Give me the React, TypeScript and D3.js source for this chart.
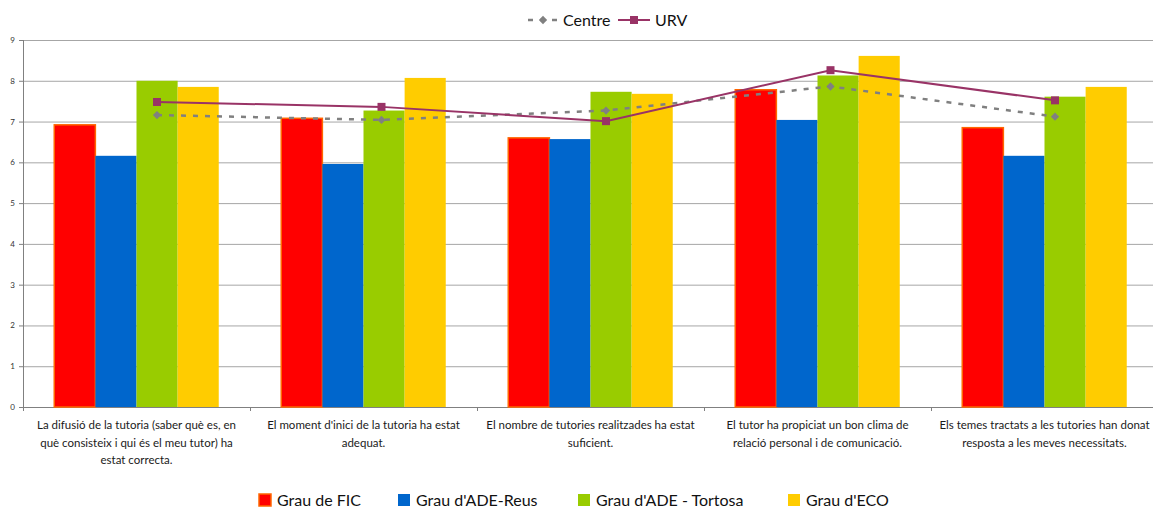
import { useEffect, useRef } from 'react'
import * as d3 from 'd3'

const categories = ['c1', 'c2', 'c3', 'c4', 'c5']
const categoryLabels = [
  ['La difusió de la tutoria (saber què es, en', 'què consisteix i qui és el meu tutor) ha', 'estat correcta.'],
  ["El moment d'inici de la tutoria ha estat", 'adequat.'],
  ['El nombre de tutories realitzades ha estat', 'suficient.'],
  ['El tutor ha propiciat un bon clima de', 'relació personal i de comunicació.'],
  ['Els temes tractats a les tutories han donat', 'resposta a les meves necessitats.'],
]
const barSeries = ['Grau de FIC', "Grau d'ADE-Reus", "Grau d'ADE - Tortosa", "Grau d'ECO"]
const fic = [6.92, 7.08, 6.6, 7.78, 6.85]
const adeReus = [6.16, 5.96, 6.57, 7.04, 6.16]
const adeTortosa = [8.0, 7.27, 7.73, 8.13, 7.61]
const eco = [7.85, 8.07, 7.68, 8.61, 7.85]
const centre = [7.16, 7.04, 7.27, 7.86, 7.12]
const urv = [7.48, 7.36, 7.01, 8.26, 7.52]
const yTicks = [0, 1, 2, 3, 4, 5, 6, 7, 8, 9]

const barColors = ['#ff0000', '#0066cc', '#99cc00', '#ffcc00']

export default function App() {
  const ref = useRef<SVGSVGElement>(null)
  const width = 1153
  const height = 510

  useEffect(() => {
    const svg = d3.select(ref.current)
    svg.selectAll('*').remove()
    const left = 23, right = 1158, top = 40, bottom = 407
    const font = 'Lato, "Open Sans", sans-serif'

    const x = d3.scaleBand().domain(categories).range([left, right])
    const inner = d3.scaleBand().domain(barSeries).range([0, x.bandwidth()]).paddingInner(0).paddingOuter(0.76)
    const y = d3.scaleLinear().domain([0, 9]).range([bottom, top])
    // the line series sit on their own category positions
    const xl = d3.scalePoint().domain(categories).range([left + 134, right - 103])

    // grid
    svg.append('g').selectAll('line').data(yTicks).enter().append('line')
      .attr('x1', left).attr('x2', width)
      .attr('y1', d => y(d) + 0.5).attr('y2', d => y(d) + 0.5)
      .attr('stroke', '#a6a6a6').attr('stroke-width', 1)

    // y axis
    const ya = svg.append('g')
    ya.append('line').attr('x1', left + 0.5).attr('x2', left + 0.5).attr('y1', top).attr('y2', bottom + 1)
      .attr('stroke', '#808080')
    ya.selectAll('line.t').data(yTicks).enter().append('line').attr('class', 't')
      .attr('x1', left - 4).attr('x2', left).attr('y1', d => y(d) + 0.5).attr('y2', d => y(d) + 0.5)
      .attr('stroke', '#808080')
    ya.selectAll('text').data(yTicks).enter().append('text')
      .attr('x', left - 8).attr('y', d => y(d) + 3).attr('text-anchor', 'end')
      .attr('font-size', 8).attr('font-family', font).attr('fill', '#333').text(d => d)

    // x axis
    const bounds = categories.map(c => x(c)!).concat([right])
    svg.append('line').attr('x1', left).attr('x2', width).attr('y1', bottom + 0.5).attr('y2', bottom + 0.5)
      .attr('stroke', '#808080')
    svg.append('g').selectAll('line').data(bounds).enter().append('line')
      .attr('x1', d => d + 0.5).attr('x2', d => d + 0.5).attr('y1', bottom).attr('y2', bottom + 4)
      .attr('stroke', '#808080')

    // bars
    const seriesValues = [fic, adeReus, adeTortosa, eco]
    seriesValues.forEach((vals, si) => {
      svg.append('g').selectAll('rect').data(vals).enter().append('rect')
        .attr('x', (d, i) => x(categories[i])! + inner(barSeries[si])!)
        .attr('y', d => y(d))
        .attr('width', inner.bandwidth())
        .attr('height', d => bottom - y(d))
        .attr('fill', barColors[si])
        .attr('stroke', si === 0 ? '#ff6600' : 'none')
        .attr('stroke-width', si === 0 ? 1.5 : 0)
    })

    // lines
    const line = d3.line<number>().x((d, i) => xl(categories[i])!).y(d => y(d))
    svg.append('path').datum(centre).attr('d', line).attr('fill', 'none')
      .attr('stroke', '#808080').attr('stroke-width', 2.5).attr('stroke-dasharray', '5,7')
    svg.append('g').selectAll('path').data(centre).enter().append('path')
      .attr('d', d3.symbol(d3.symbolDiamond2, 44)())
      .attr('transform', (d, i) => `translate(${xl(categories[i])},${y(d)})`)
      .attr('fill', '#808080')
    svg.append('path').datum(urv).attr('d', line).attr('fill', 'none')
      .attr('stroke', '#993366').attr('stroke-width', 2)
    svg.append('g').selectAll('rect').data(urv).enter().append('rect')
      .attr('x', (d, i) => xl(categories[i])! - 4).attr('y', d => y(d) - 4)
      .attr('width', 8).attr('height', 8).attr('fill', '#993366')

    // category labels
    categoryLabels.forEach((lines, i) => {
      const cx = x(categories[i])! + x.bandwidth() / 2
      const t = svg.append('text').attr('text-anchor', 'middle').attr('font-family', font)
        .attr('font-size', 11.5).attr('fill', '#1a1a1a')
      lines.forEach((l, j) => t.append('tspan').attr('x', cx).attr('y', 429 + j * 17.5).text(l))
    })

    // top legend
    const tl = svg.append('g').attr('font-family', font).attr('font-size', 16).attr('fill', '#111')
    tl.append('line').attr('x1', 528).attr('x2', 558).attr('y1', 20).attr('y2', 20)
      .attr('stroke', '#808080').attr('stroke-width', 2.5).attr('stroke-dasharray', '5,7')
    tl.append('path').attr('d', d3.symbol(d3.symbolDiamond2, 44)()).attr('transform', 'translate(543,20)')
      .attr('fill', '#808080')
    tl.append('text').attr('x', 563).attr('y', 26).text('Centre')
    tl.append('line').attr('x1', 618).attr('x2', 650).attr('y1', 20).attr('y2', 20)
      .attr('stroke', '#993366').attr('stroke-width', 2)
    tl.append('rect').attr('x', 630).attr('y', 16).attr('width', 8).attr('height', 8).attr('fill', '#993366')
    tl.append('text').attr('x', 655).attr('y', 26).text('URV')

    // bottom legend
    const legendX = [259, 398, 578, 788]
    const bl = svg.append('g').attr('font-family', font).attr('font-size', 16).attr('fill', '#111')
    barSeries.forEach((s, i) => {
      bl.append('rect').attr('x', legendX[i]).attr('y', 494).attr('width', 12).attr('height', 12)
        .attr('fill', barColors[i]).attr('stroke', i === 0 ? '#ff6600' : 'none').attr('stroke-width', 1.5)
      bl.append('text').attr('x', legendX[i] + 18).attr('y', 506).text(s)
    })
  })

  return (
    <svg ref={ref} width={width} height={height}
      style={{ position: 'absolute', left: 0, top: 0, background: '#fff', overflow: 'hidden' }} />
  )
}
